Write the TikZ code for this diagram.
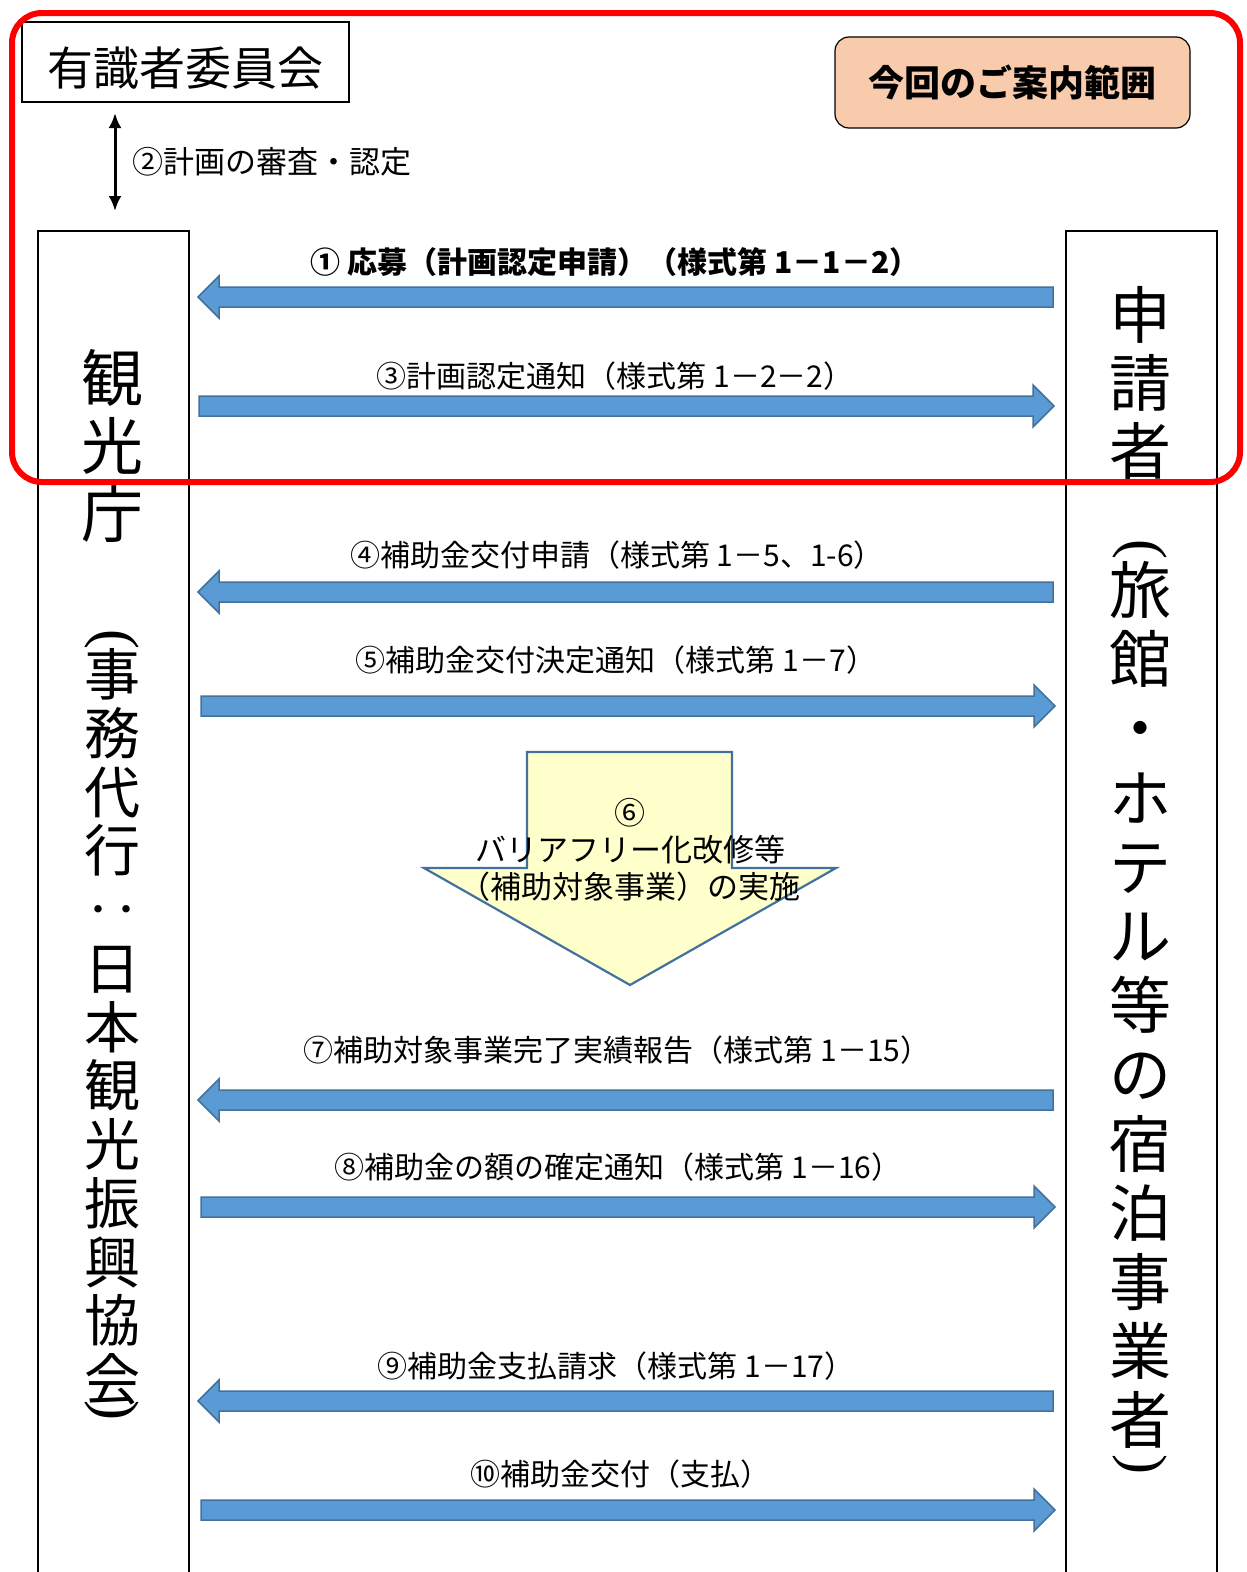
\documentclass[tikz,border=0pt]{standalone}
\usepackage{fontspec}
\usepackage{graphicx}
\newfontfamily\cjk{Noto Sans CJK JP}
\newfontfamily\lser{Liberation Serif}
\usetikzlibrary{arrows.meta}
\definecolor{bfill}{HTML}{5B9BD5}
\definecolor{bdraw}{HTML}{41719C}
\definecolor{yfill}{HTML}{FFFFCC}
\definecolor{peach}{HTML}{F8CBAD}
\definecolor{redline}{HTML}{FF0000}
\tikzset{
  blk/.style={fill=bfill,draw=bdraw,line width=1.5},
  lbl/.style={font=\cjk\fontsize{30}{34}\selectfont, inner sep=0},
  col/.style={draw,line width=1.2, minimum width=151, minimum height=1349, inner sep=0},
  vtxtA/.style={align=center, inner sep=0, font=\cjk\fontsize{62}{68}\selectfont},
  vtxtB/.style={align=center, inner sep=0, font=\cjk\fontsize{56}{58.75}\selectfont},
  vtxtC/.style={align=center, inner sep=0, font=\cjk\fontsize{62}{69.2}\selectfont},
  vparen/.style={inner sep=0, font=\lser\fontsize{60}{64}\selectfont},
}
\newcommand\myRarrow[3]{\draw[blk] (#1,#3-10) -- (#2-21,#3-10) -- (#2-21,#3-21) -- (#2,#3) -- (#2-21,#3+21) -- (#2-21,#3+10) -- (#1,#3+10) -- cycle;}
\newcommand\myLarrow[3]{\draw[blk] (#2,#3-10) -- (#1+21,#3-10) -- (#1+21,#3-21) -- (#1,#3) -- (#1+21,#3+21) -- (#1+21,#3+10) -- (#2,#3+10) -- cycle;}
\newcommand\vopen{\rotatebox{-90}{(}}
\newcommand\vclose{\rotatebox{-90}{)}}
\begin{document}
\begin{tikzpicture}[x=1pt,y=-1pt]
\useasboundingbox (0,0) rectangle (1247,1572);
% committee box
\node[draw,line width=1.2,minimum width=327,minimum height=80,inner sep=0] (iinkai) at (185.5,62) {};
\node[inner sep=0,font=\cjk\fontsize{46}{50}\selectfont] (iinkaiT) at (185.5,68) {有識者委員会};
% double arrow
\coordinate (dtop) at (115,113);
\coordinate (dbot) at (115,211);
\draw[line width=3,{Latex[length=15,width=13]}-{Latex[length=15,width=13]}] (dtop) -- (dbot);
\node[anchor=west,inner sep=0,font=\cjk\fontsize{31}{36}\selectfont] (l2) at (132,162) {②計画の審査・認定};
% scope label
\node[draw,line width=1.2,fill=peach,rounded corners=14,minimum width=355,minimum height=91,inner sep=0,font=\cjk\bfseries\fontsize{36}{40}\selectfont] (scope) at (1012.5,82.5) {今回のご案内範囲};
% columns
\node[col] (left) at (113.5,905.5) {};
\node[col] (right) at (1141.5,905.5) {};
% left column text
\node[vtxtA] (lt1) at (112,446) {観\\光\\庁};
\node[vparen] (lpo) at (112,639) {\vopen};
\node[vtxtB] (lt2) at (112,1027) {事\\務\\代\\行\\‥\\日\\本\\観\\光\\振\\興\\協\\会};
\node[vparen] (lpc) at (112,1410) {\vclose};
% right column text
\node[vtxtA] (rt1) at (1140,383) {申\\請\\者};
\node[vparen] (rpo) at (1140,549) {\vopen};
\node[vtxtC] (rt2) at (1140,1005) {旅\\館\\・\\ホ\\テ\\ル\\等\\の\\宿\\泊\\事\\業\\者};
\node[vparen] (rpc) at (1140,1464) {\vclose};
% flow arrows
\myLarrow{198}{1053}{297}
\node[lbl,font=\cjk\bfseries\fontsize{30}{34}\selectfont] (l1) at (615,262) {① 応募（計画認定申請）（様式第 1－1－2）};
\myRarrow{199}{1054}{406}
\node[lbl] (l3) at (615,376) {③計画認定通知（様式第 1－2－2）};
\myLarrow{198}{1053}{592}
\node[lbl] (l4) at (617,555) {④補助金交付申請（様式第 1－5、1-6）};
\myRarrow{201}{1055}{706}
\node[lbl] (l5) at (616,660) {⑤補助金交付決定通知（様式第 1－7）};
% big down arrow
\draw[fill=yfill,draw=bdraw,line width=2.2] (527,752) -- (732,752) -- (732,868) -- (836,868) -- (630,985) -- (424,868) -- (527,868) -- cycle;
\node[inner sep=0,align=center,font=\cjk\fontsize{31}{37}\selectfont] (l6) at (630,850) {⑥\\バリアフリー化改修等\\（補助対象事業）の実施};
\myLarrow{198}{1053}{1100}
\node[lbl] (l7) at (617,1050) {⑦補助対象事業完了実績報告（様式第 1－15）};
\myRarrow{201}{1055}{1207}
\node[lbl] (l8) at (618,1167) {⑧補助金の額の確定通知（様式第 1－16）};
\myLarrow{198}{1053}{1401}
\node[lbl] (l9) at (616,1366) {⑨補助金支払請求（様式第 1－17）};
\myRarrow{201}{1055}{1510}
\node[lbl] (l10) at (620,1474) {⑩補助金交付（支払）};
% red frame
\draw[redline,line width=6,rounded corners=30] (12,13) rectangle (1240,482);
\end{tikzpicture}
\end{document}
